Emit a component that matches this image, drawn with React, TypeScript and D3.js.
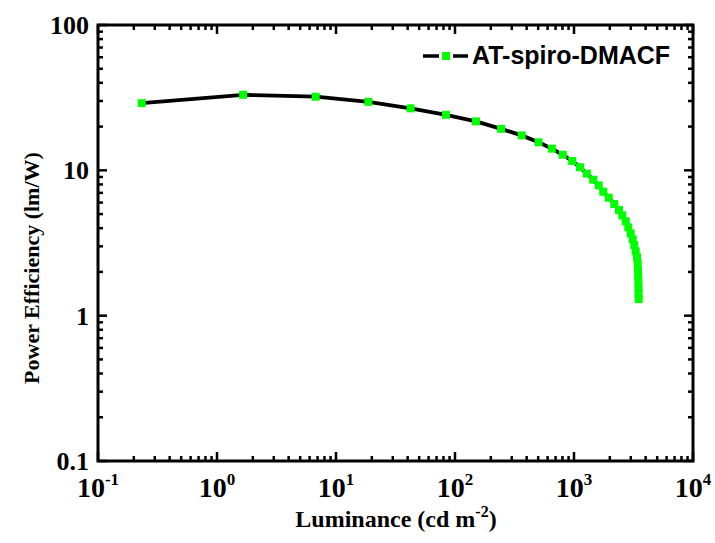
import React from "react";
import * as d3 from "d3";

const luminance = [0.233, 1.66, 6.75, 18.7, 42.4, 84.0, 150, 244, 363, 503, 651, 804, 966, 1123, 1281, 1450, 1613, 1763, 1957, 2181, 2389, 2546, 2719, 2860, 2996, 3114, 3212, 3300, 3384, 3430, 3450, 3464, 3477, 3484, 3491, 3497];
const efficiency = [29.0, 33.1, 32.1, 29.6, 26.7, 24.1, 21.7, 19.3, 17.4, 15.6, 14.1, 12.8, 11.6, 10.5, 9.5, 8.62, 7.88, 7.12, 6.48, 5.86, 5.33, 4.9, 4.46, 4.05, 3.68, 3.35, 3.05, 2.77, 2.52, 2.29, 2.06, 1.87, 1.7, 1.55, 1.41, 1.3];
const xExponents = [-1, 0, 1, 2, 3, 4];
const yTickLabels = ["0.1", "1", "10", "100"];
const yTickValues = [0.1, 1, 10, 100];
const seriesName = "AT-spiro-DMACF";

const L = 98, R = 693, T = 25, B = 461;

export default function App() {
  const x = d3.scaleLog().domain([0.1, 10000]).range([L, R]);
  const y = d3.scaleLog().domain([0.1, 100]).range([B, T]);
  const line = d3.line<number>().x((_, i) => x(luminance[i])).y((d) => y(d));

  const xMinor: number[] = [];
  for (let e = -1; e < 4; e++) for (let m = 2; m <= 9; m++) xMinor.push(m * Math.pow(10, e));
  const yMinor: number[] = [];
  for (let e = -1; e < 2; e++) for (let m = 2; m <= 9; m++) yMinor.push(m * Math.pow(10, e));

  const serif = "'Liberation Serif', 'Times New Roman', serif";
  const sans = "'Liberation Sans', Arial, sans-serif";
  const MAJ = 9, MIN = 5;

  return (
    <svg width={715} height={543} style={{ position: "absolute", left: 0, top: 0, background: "#fff" }}>
      <rect x={0} y={0} width={715} height={543} fill="#fff" />
      {/* ticks */}
      <g stroke="#000" strokeWidth={2.5}>
        {xExponents.map((e) => {
          const px = x(Math.pow(10, e));
          return (
            <g key={"xM" + e}>
              <line x1={px} x2={px} y1={B} y2={B - MAJ} />
              <line x1={px} x2={px} y1={T} y2={T + MAJ} />
            </g>
          );
        })}
        {xMinor.map((v, i) => (
          <g key={"xm" + i}>
            <line x1={x(v)} x2={x(v)} y1={B} y2={B - MIN} />
            <line x1={x(v)} x2={x(v)} y1={T} y2={T + MIN} />
          </g>
        ))}
        {yTickValues.map((v, i) => (
          <g key={"yM" + i}>
            <line x1={L} x2={L + MAJ} y1={y(v)} y2={y(v)} />
            <line x1={R} x2={R - MAJ} y1={y(v)} y2={y(v)} />
          </g>
        ))}
        {yMinor.map((v, i) => (
          <g key={"ym" + i}>
            <line x1={L} x2={L + MIN} y1={y(v)} y2={y(v)} />
            <line x1={R} x2={R - MIN} y1={y(v)} y2={y(v)} />
          </g>
        ))}
      </g>
      <rect x={L} y={T} width={R - L} height={B - T} fill="none" stroke="#000" strokeWidth={3} />

      {/* data */}
      <path d={line(efficiency) || ""} fill="none" stroke="#000" strokeWidth={3.8} />
      {efficiency.map((v, i) => (
        <rect key={"p" + i} x={x(luminance[i]) - 4} y={y(v) - 4} width={8} height={8} fill="#00ff00" />
      ))}

      {/* y tick labels */}
      {yTickValues.map((v, i) => (
        <text key={"yl" + i} x={L - 9} y={y(v) + 9} textAnchor="end" fontFamily={serif} fontWeight="bold" fontSize={26}>
          {yTickLabels[i]}
        </text>
      ))}
      {/* x tick labels */}
      {xExponents.map((e) => (
        <text key={"xl" + e} x={x(Math.pow(10, e))} y={497} textAnchor="middle" fontFamily={serif} fontWeight="bold" fontSize={28}>
          10
          <tspan fontSize={17} dy={-12}>{String(e)}</tspan>
        </text>
      ))}

      {/* axis titles */}
      <text x={396} y={527} textAnchor="middle" fontFamily={serif} fontWeight="bold" fontSize={24}>
        Luminance (cd m<tspan fontSize={16} dy={-10}>-2</tspan><tspan dy={10}>)</tspan>
      </text>
      <text x={39} y={268} transform="rotate(-90, 39, 268)" textAnchor="middle" fontFamily={serif} fontWeight="bold" fontSize={22}>
        Power Efficiency (lm/W)
      </text>

      {/* legend */}
      <g>
        <line x1={423} x2={439} y1={56} y2={56} stroke="#000" strokeWidth={3.5} />
        <line x1={453} x2={468} y1={56} y2={56} stroke="#000" strokeWidth={3.5} />
        <rect x={442} y={52} width={8} height={8} fill="#00ff00" />
        <text x={472} y={64} fontFamily={sans} fontWeight="bold" fontSize={25}>{seriesName}</text>
      </g>
    </svg>
  );
}
